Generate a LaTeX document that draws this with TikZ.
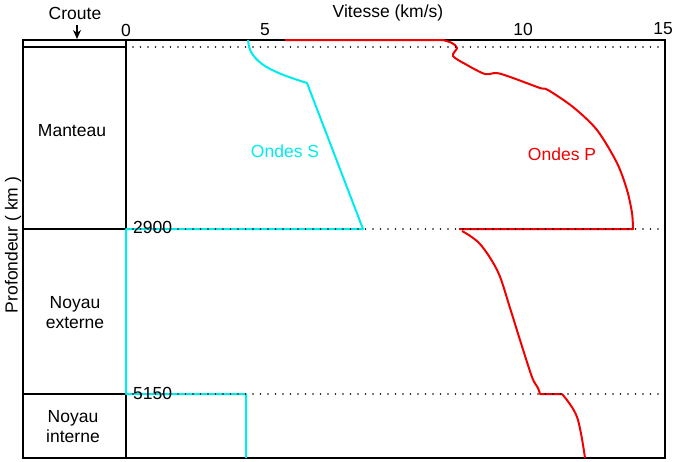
\documentclass[tikz,border=0pt]{standalone}
\usepackage{fontspec}
\setmainfont{Liberation Sans}
\usetikzlibrary{arrows.meta}
\definecolor{scol}{RGB}{0,235,235}
\definecolor{pcol}{RGB}{240,0,0}
\tikzset{
  lbl/.style={font=\fontsize{17.5}{20}\selectfont, inner sep=0pt, align=center},
  frame/.style={line width=1.9pt, black},
  dots/.style={line width=1.8pt, dash pattern=on 0pt off 7.5pt, line cap=round, black},
  swave/.style={line width=2pt, scol, line join=round},
  pwave/.style={line width=2pt, pcol, line join=round},
}
\begin{document}
\begin{tikzpicture}[x=1pt,y=-1pt]
\useasboundingbox (0,0) rectangle (688,461);
% frame
\draw[frame] (23,40) rectangle (665,458);
\draw[frame] (126,40) -- (126,458);
\draw[frame] (23,47) -- (126,47);
\draw[frame] (23,229) -- (126,229);
\draw[frame] (23,394) -- (126,394);
% S waves
\draw[swave] plot[smooth, tension=0.6] coordinates {(248,40) (251,52) (262,64) (281,74) (307,83)}
  -- (363,229) -- (126,229) -- (126,394) -- (246,394) -- (246,458);
% P waves
\draw[pwave] (285,40) -- (443,40) plot[smooth, tension=0.5] coordinates {(443,40) (452,43) (457,48) (453,56) (467,65) (485,74) (497,73) (513,78) (540,88) (548,90) (573,107) (597,130) (617,163) (627,190) (632,213) (633,229)}
  -- (459,229);
\draw[pwave] plot[smooth, tension=0.55] coordinates {(462,231) (480,244) (498,272) (510,308) (520,340) (532,377) (538,388) (540,394)}
  -- (562,394) plot[smooth, tension=0.6] coordinates {(562,394) (577,417) (585,458)};
% dotted lines
\draw[dots] (133,47) -- (660,47);
\draw[dots] (133,229) -- (660,229);
\draw[dots] (133,394) -- (660,394);
% labels
\node[lbl] (croute) at (75,13) {Croute};
\coordinate (crtip) at (77,39);
\draw[-{Stealth[length=9pt,width=8pt]}, line width=1.4pt] (77,25) -- (crtip);
\node[lbl] (vit) at (388,13) {Vitesse (km/s)};
\node[lbl] (t0) at (126,30) {0};
\node[lbl] (t5) at (265,30) {5};
\node[lbl] (t10) at (523,29) {10};
\node[lbl] (t15) at (663,29) {15};
\node[lbl] (manteau) at (72,131) {Manteau};
\node[lbl] (ne) at (75,313) {Noyau\\externe};
\node[lbl] (ni) at (73,427) {Noyau\\interne};
\node[lbl, rotate=90] (prof) at (13,245) {Profondeur ( km )};
\node[lbl, anchor=west] (d2900) at (133,227) {2900};
\node[lbl, anchor=west] (d5150) at (133,393) {5150};
\node[lbl, text=scol] (os) at (285,151) {Ondes S};
\node[lbl, text=pcol] (op) at (562,154) {Ondes P};
\end{tikzpicture}
\end{document}
